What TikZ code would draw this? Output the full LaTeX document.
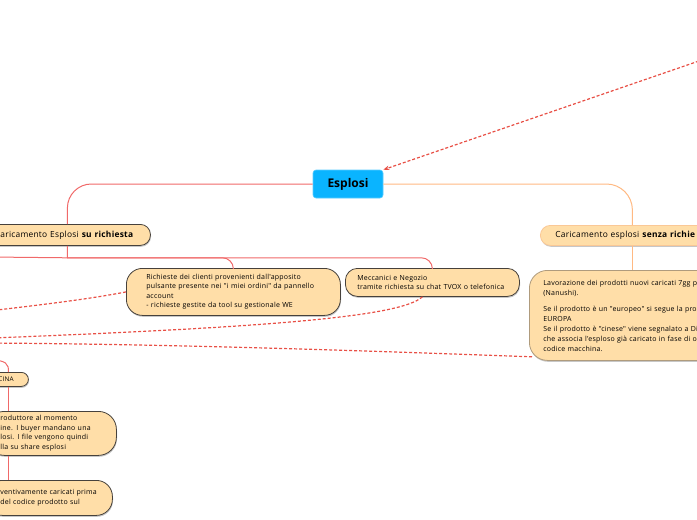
\documentclass[tikz,border=0pt]{standalone}
\usepackage{fontspec}
\setmainfont{Open Sans}
\newfontfamily\mapfont[LetterSpace=3]{Open Sans}
\usetikzlibrary{arrows.meta,shadows}
\definecolor{rootblue}{RGB}{10,180,255}
\definecolor{rootedge}{RGB}{90,205,255}
\definecolor{leaffill}{RGB}{255,222,168}
\definecolor{leafdark}{RGB}{70,65,60}
\definecolor{leaftan}{RGB}{175,155,125}
\definecolor{leaflight}{RGB}{250,200,150}
\definecolor{linkred}{RGB}{240,105,105}
\definecolor{dashred}{RGB}{232,80,70}
\definecolor{linkorange}{RGB}{255,185,130}
\begin{document}
\begin{tikzpicture}[x=1pt,y=-1pt,>={Stealth[length=6pt,width=4.5pt]},
  rootbox/.style={fill=rootblue,draw=rootedge,line width=0.6pt,rounded corners=3pt,
    minimum width=70pt,minimum height=28pt,font=\fontsize{12}{14}\selectfont\bfseries},
  leaf/.style={draw=leafdark,fill=leaffill,line width=0.8pt,rounded corners=#1,
    anchor=north west,align=left,inner ysep=0pt,font=\mapfont\fontsize{7}{9.5}\selectfont,
    drop shadow={shadow xshift=0.6pt,shadow yshift=-1.4pt,fill=black,opacity=0.22}},
  leaf/.default=14pt,
  redline/.style={draw=linkred,line width=1pt},
  orangeline/.style={draw=linkorange,line width=1pt},
  dashline/.style={draw=dashred,line width=1.2pt,dash pattern=on 3pt off 2pt}]
\useasboundingbox (0,0) rectangle (697,520);
\clip (0,0) rectangle (697,520);

\node[rootbox] (root) at (348,184) {Esplosi};

% ramo sinistro
\node[leaf=10pt,inner xsep=16pt,text width=134pt,minimum height=21pt,
  font=\mapfont\fontsize{8.4}{10}\selectfont] (richiesta) at (-16,224)
  {aricamento Esplosi \textbf{su richiesta}};
\node[leaf=16pt,inner xsep=20pt,text width=174pt,minimum height=47pt] (clienti) at (126,268)
  {Richieste dei clienti provenienti dall'apposito\\
   pulsante presente nei "i miei ordini" da pannello\\
   account\\
   - richieste gestite da tool su gestionale WE};
\node[leaf=12pt,inner xsep=12pt,text width=150pt,minimum height=28pt] (meccanici) at (345,268)
  {Meccanici e Negozio\\tramite richiesta su chat TVOX o \mbox{telefonica}};
\node[leaf=7pt,inner xsep=10pt,text width=20pt,minimum height=14pt,
  font=\mapfont\fontsize{6.4}{7.5}\selectfont] (cina) at (-12,372) {CINA};
\node[leaf=18pt,inner xsep=14pt,text width=102pt,minimum height=44pt] (produttore) at (-14,411)
  {roduttore al momento\\ine. I buyer mandano una\\losi. I file vengono quindi\\lla su share esplosi};
\node[leaf=16pt,inner xsep=14pt,text width=98pt,minimum height=35pt] (preventivi) at (-14,480)
  {ventivamente caricati prima\\del codice prodotto sul};

% ramo destro
\node[leaf=10pt,draw=leaflight,inner xsep=15pt,text width=154pt,minimum height=20pt,
  font=\mapfont\fontsize{8.4}{10}\selectfont] (senza) at (540,225)
  {Caricamento esplosi \textbf{senza richie}};
\node[leaf=18pt,draw=leaftan,inner xsep=14pt,text width=178pt,minimum height=90pt,
  font=\mapfont\fontsize{7}{10}\selectfont] (nuovi) at (529,270)
  {Lavorazione dei prodotti nuovi caricati 7gg pr\\
   (Nanushi).\\[6pt]
   Se il prodotto è un "europeo" si segue la proc\\
   EUROPA\\
   Se il prodotto è "cinese" viene segnalato a Dit\\
   che associa l'esploso già caricato in fase di or\\
   codice macchina.};

\coordinate (hub) at ([yshift=-12pt]richiesta.south);
\coordinate (fuoriA) at (-10,257);
\coordinate (fuoriB) at (-10,360);
\coordinate (fuoriTR) at (850,9);
\coordinate (fuoriL1) at (-20,312);
\coordinate (fuoriL2) at (-20,338.5);
\coordinate (fuoriL3) at (-20,343);

\draw[redline,rounded corners=24pt] (root.west) -| (richiesta.north);
\draw[redline] (richiesta.south) -- (hub) -- (fuoriA);
\draw[redline,rounded corners=11pt] (hub) -| (clienti.north);
\draw[redline,rounded corners=11pt] (hub) -| (meccanici.north);
\draw[redline] (fuoriB) .. controls (6,360) and (9,364) .. (cina.north);
\draw[redline] (cina.south) -- (cina.south |- produttore.north);
\draw[redline] (cina.south |- produttore.south) -- (cina.south |- preventivi.north);

\draw[orangeline,rounded corners=26pt] (root.east) -| (senza.north);
\draw[orangeline] (senza.south) -- (nuovi.north);

\draw[dashline,->] (fuoriTR) -- (root.north east);
\draw[dashline] (clienti.west) .. controls (90,299) and (40,305) .. (fuoriL1);
\draw[dashline] ([xshift=-10pt]meccanici.south) .. controls (400,318) and (250,328) .. (fuoriL2);
\draw[dashline] ([shift={(3pt,4pt)}]nuovi.south west) .. controls (450,354) and (200,344) .. (fuoriL3);
\end{tikzpicture}
\end{document}
